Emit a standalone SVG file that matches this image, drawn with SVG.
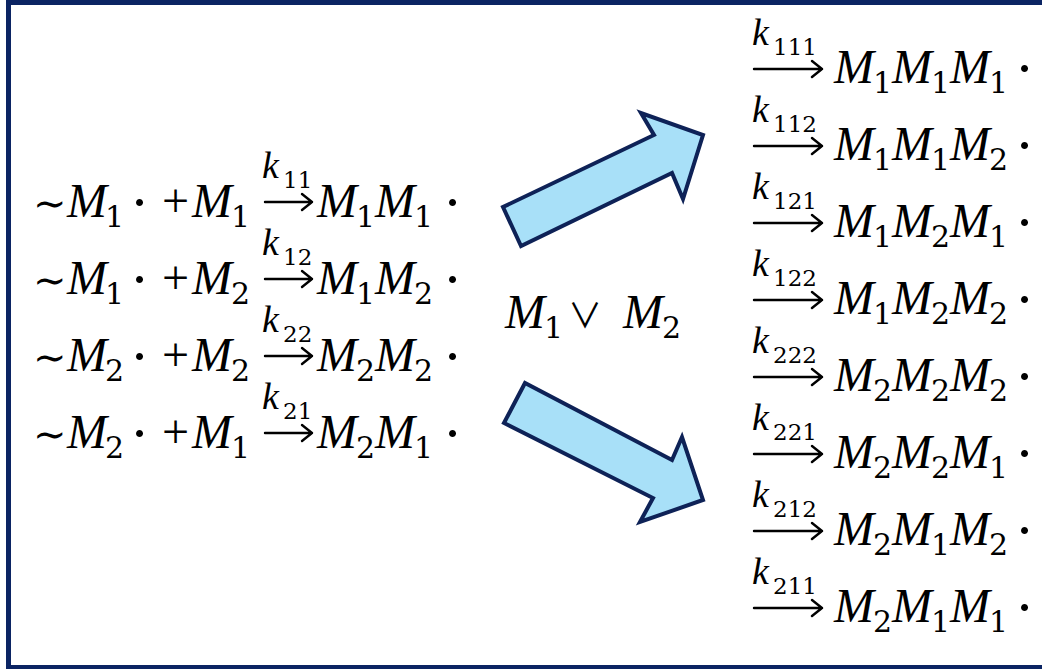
<svg xmlns="http://www.w3.org/2000/svg" width="1042" height="669" viewBox="0 0 1042 669">
<style>
.eq{font-family:"Liberation Serif",serif;fill:#000}
.m{font-style:italic;font-size:48px}
.s{font-family:"DejaVu Serif",serif;font-size:30px}
.k{font-style:italic;font-size:38px}
.ks{font-family:"DejaVu Serif",serif;font-size:23px}
.op{font-size:48px}
.dt{font-family:"DejaVu Serif",serif;font-size:54px}
.tl{font-family:"DejaVu Serif",serif;font-size:40px}
.vee{font-family:"Noto Sans CJK SC","DejaVu Sans",sans-serif;font-weight:400;font-size:34px}
.rx{fill:none;stroke:#000;stroke-width:2.4;stroke-linecap:round;stroke-linejoin:round}
.big{fill:#A8E0F8;stroke:#0E2257;stroke-width:4;stroke-linejoin:miter}
</style>
<rect x="8.5" y="2.5" width="1050" height="665" fill="#fff" stroke="#0B2463" stroke-width="5"/>

<g id="left-row-1">
<text class="eq"><tspan class="tl" x="33" y="217">∼</tspan><tspan class="m" x="67" y="217">M</tspan><tspan class="s" x="105" y="227">1</tspan><tspan class="dt" x="131" y="221">·</tspan><tspan class="op" x="162" y="217">+</tspan><tspan class="m" x="192" y="217">M</tspan><tspan class="s" x="231" y="227">1</tspan><tspan class="m" x="317" y="217">M</tspan><tspan class="s" x="356" y="227">1</tspan><tspan class="m" x="375" y="217">M</tspan><tspan class="s" x="414" y="227">1</tspan><tspan class="dt" x="444" y="221">·</tspan></text>
<text class="eq"><tspan class="k" x="262" y="178">k</tspan><tspan class="ks" x="283" y="188">11</tspan></text>
<path class="rx" d="M265 202H312M302 194L312 202L302 210"/>
</g>
<g id="left-row-2">
<text class="eq"><tspan class="tl" x="33" y="294">∼</tspan><tspan class="m" x="67" y="294">M</tspan><tspan class="s" x="105" y="304">1</tspan><tspan class="dt" x="131" y="298">·</tspan><tspan class="op" x="162" y="294">+</tspan><tspan class="m" x="192" y="294">M</tspan><tspan class="s" x="231" y="304">2</tspan><tspan class="m" x="317" y="294">M</tspan><tspan class="s" x="356" y="304">1</tspan><tspan class="m" x="375" y="294">M</tspan><tspan class="s" x="414" y="304">2</tspan><tspan class="dt" x="444" y="298">·</tspan></text>
<text class="eq"><tspan class="k" x="262" y="255">k</tspan><tspan class="ks" x="283" y="265">12</tspan></text>
<path class="rx" d="M265 279H312M302 271L312 279L302 287"/>
</g>
<g id="left-row-3">
<text class="eq"><tspan class="tl" x="33" y="371">∼</tspan><tspan class="m" x="67" y="371">M</tspan><tspan class="s" x="105" y="381">2</tspan><tspan class="dt" x="131" y="375">·</tspan><tspan class="op" x="162" y="371">+</tspan><tspan class="m" x="192" y="371">M</tspan><tspan class="s" x="231" y="381">2</tspan><tspan class="m" x="317" y="371">M</tspan><tspan class="s" x="356" y="381">2</tspan><tspan class="m" x="375" y="371">M</tspan><tspan class="s" x="414" y="381">2</tspan><tspan class="dt" x="444" y="375">·</tspan></text>
<text class="eq"><tspan class="k" x="262" y="332">k</tspan><tspan class="ks" x="283" y="342">22</tspan></text>
<path class="rx" d="M265 356H312M302 348L312 356L302 364"/>
</g>
<g id="left-row-4">
<text class="eq"><tspan class="tl" x="33" y="448">∼</tspan><tspan class="m" x="67" y="448">M</tspan><tspan class="s" x="105" y="458">2</tspan><tspan class="dt" x="131" y="452">·</tspan><tspan class="op" x="162" y="448">+</tspan><tspan class="m" x="192" y="448">M</tspan><tspan class="s" x="231" y="458">1</tspan><tspan class="m" x="317" y="448">M</tspan><tspan class="s" x="356" y="458">2</tspan><tspan class="m" x="375" y="448">M</tspan><tspan class="s" x="414" y="458">1</tspan><tspan class="dt" x="444" y="452">·</tspan></text>
<text class="eq"><tspan class="k" x="262" y="409">k</tspan><tspan class="ks" x="283" y="419">21</tspan></text>
<path class="rx" d="M265 433H312M302 425L312 433L302 441"/>
</g>

<g id="middle-label">
<text class="eq"><tspan class="m" x="505" y="328">M</tspan><tspan class="s" x="544" y="338">1</tspan><tspan class="vee" x="568" y="328">∨</tspan><tspan class="m" x="623" y="328">M</tspan><tspan class="s" x="662" y="338">2</tspan></text>
</g>

<g id="connectors">
<polygon class="big" points="521,246 503,207 654,135 641,113 703,135 683,199 672,173"/>
<polygon class="big" points="525,383 504,423 653,498 640,522 703,500 682,437 672,460"/>
</g>

<g id="right-row-1">
<text class="eq"><tspan class="k" x="752" y="45">k</tspan><tspan class="ks" x="773" y="55">111</tspan><tspan class="m" x="834" y="83">M</tspan><tspan class="s" x="873" y="93">1</tspan><tspan class="m" x="892" y="83">M</tspan><tspan class="s" x="931" y="93">1</tspan><tspan class="m" x="950" y="83">M</tspan><tspan class="s" x="989" y="93">1</tspan><tspan class="dt" x="1016" y="87">·</tspan></text>
<path class="rx" d="M754 69H822M812 61L822 69L812 77"/>
</g>
<g id="right-row-2">
<text class="eq"><tspan class="k" x="752" y="122">k</tspan><tspan class="ks" x="773" y="132">112</tspan><tspan class="m" x="834" y="160">M</tspan><tspan class="s" x="873" y="170">1</tspan><tspan class="m" x="892" y="160">M</tspan><tspan class="s" x="931" y="170">1</tspan><tspan class="m" x="950" y="160">M</tspan><tspan class="s" x="989" y="170">2</tspan><tspan class="dt" x="1016" y="164">·</tspan></text>
<path class="rx" d="M754 146H822M812 138L822 146L812 154"/>
</g>
<g id="right-row-3">
<text class="eq"><tspan class="k" x="752" y="199">k</tspan><tspan class="ks" x="773" y="209">121</tspan><tspan class="m" x="834" y="237">M</tspan><tspan class="s" x="873" y="247">1</tspan><tspan class="m" x="892" y="237">M</tspan><tspan class="s" x="931" y="247">2</tspan><tspan class="m" x="950" y="237">M</tspan><tspan class="s" x="989" y="247">1</tspan><tspan class="dt" x="1016" y="241">·</tspan></text>
<path class="rx" d="M754 223H822M812 215L822 223L812 231"/>
</g>
<g id="right-row-4">
<text class="eq"><tspan class="k" x="752" y="276">k</tspan><tspan class="ks" x="773" y="286">122</tspan><tspan class="m" x="834" y="314">M</tspan><tspan class="s" x="873" y="324">1</tspan><tspan class="m" x="892" y="314">M</tspan><tspan class="s" x="931" y="324">2</tspan><tspan class="m" x="950" y="314">M</tspan><tspan class="s" x="989" y="324">2</tspan><tspan class="dt" x="1016" y="318">·</tspan></text>
<path class="rx" d="M754 300H822M812 292L822 300L812 308"/>
</g>
<g id="right-row-5">
<text class="eq"><tspan class="k" x="752" y="353">k</tspan><tspan class="ks" x="773" y="363">222</tspan><tspan class="m" x="834" y="391">M</tspan><tspan class="s" x="873" y="401">2</tspan><tspan class="m" x="892" y="391">M</tspan><tspan class="s" x="931" y="401">2</tspan><tspan class="m" x="950" y="391">M</tspan><tspan class="s" x="989" y="401">2</tspan><tspan class="dt" x="1016" y="395">·</tspan></text>
<path class="rx" d="M754 377H822M812 369L822 377L812 385"/>
</g>
<g id="right-row-6">
<text class="eq"><tspan class="k" x="752" y="430">k</tspan><tspan class="ks" x="773" y="440">221</tspan><tspan class="m" x="834" y="468">M</tspan><tspan class="s" x="873" y="478">2</tspan><tspan class="m" x="892" y="468">M</tspan><tspan class="s" x="931" y="478">2</tspan><tspan class="m" x="950" y="468">M</tspan><tspan class="s" x="989" y="478">1</tspan><tspan class="dt" x="1016" y="472">·</tspan></text>
<path class="rx" d="M754 454H822M812 446L822 454L812 462"/>
</g>
<g id="right-row-7">
<text class="eq"><tspan class="k" x="752" y="507">k</tspan><tspan class="ks" x="773" y="517">212</tspan><tspan class="m" x="834" y="545">M</tspan><tspan class="s" x="873" y="555">2</tspan><tspan class="m" x="892" y="545">M</tspan><tspan class="s" x="931" y="555">1</tspan><tspan class="m" x="950" y="545">M</tspan><tspan class="s" x="989" y="555">2</tspan><tspan class="dt" x="1016" y="549">·</tspan></text>
<path class="rx" d="M754 531H822M812 523L822 531L812 539"/>
</g>
<g id="right-row-8">
<text class="eq"><tspan class="k" x="752" y="584">k</tspan><tspan class="ks" x="773" y="594">211</tspan><tspan class="m" x="834" y="622">M</tspan><tspan class="s" x="873" y="632">2</tspan><tspan class="m" x="892" y="622">M</tspan><tspan class="s" x="931" y="632">1</tspan><tspan class="m" x="950" y="622">M</tspan><tspan class="s" x="989" y="632">1</tspan><tspan class="dt" x="1016" y="626">·</tspan></text>
<path class="rx" d="M754 608H822M812 600L822 608L812 616"/>
</g>
</svg>
